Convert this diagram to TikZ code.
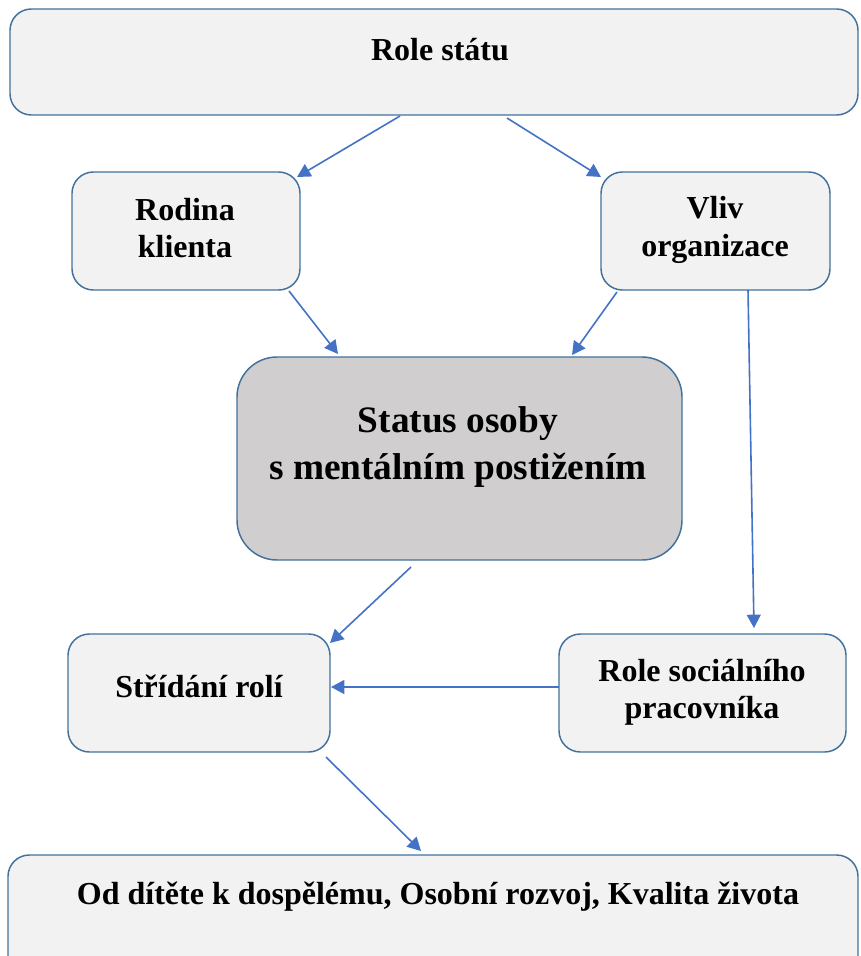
\documentclass[tikz,border=0pt]{standalone}
\usepackage{fontspec}
\setmainfont{Liberation Serif}
\usetikzlibrary{arrows.meta}
\definecolor{boxline}{HTML}{41719C}
\definecolor{boxfill}{HTML}{F2F2F2}
\definecolor{statfill}{HTML}{D0CECE}
\definecolor{arr}{HTML}{4472C4}
\tikzset{
  box/.style={draw=boxline, fill=boxfill, line width=1.1pt, rounded corners=16pt},
  txt/.style={font=\bfseries\fontsize{24}{28}\selectfont, align=center, inner sep=0pt},
  bigtxt/.style={font=\bfseries\fontsize{28}{35}\selectfont, align=center, inner sep=0pt},
  conn/.style={draw=arr, line width=1.2pt, -{Triangle[length=10pt,width=10.5pt]}}
}
\begin{document}
\begin{tikzpicture}[x=0.75pt,y=-0.75pt]
\path[use as bounding box] (0,0) rectangle (860,956);
\clip (0,0) rectangle (860,956);
% boxes
\draw[box] (10,9) rectangle (858,115);
\node[txt] (ttop) at (440,50) {Role státu};
\draw[box] (72,172) rectangle (300,290);
\node[txt] (rod) at (185,228) {Rodina\\klienta};
\draw[box] (601,172) rectangle (830,290);
\node[txt] (vliv) at (715,230) {Vliv\\organizace};
\draw[box, fill=statfill, rounded corners=30pt] (237,357) rectangle (682,560);
\node[bigtxt] (stat) at (458,447) {Status osoby\\s mentálním postižením};
\draw[box] (68,634) rectangle (330,752);
\node[txt] (strid) at (199,686) {Střídání rolí};
\draw[box] (559,634) rectangle (846,752);
\node[txt] (soc) at (702,692) {Role sociálního\\pracovníka};
\draw[box] (8,855) rectangle (858,990);
\node[txt] (bot) at (438,897) {Od dítěte k dospělému, Osobní rozvoj, Kvalita života};
% connector end points
\coordinate (a1s) at (400,116); \coordinate (a1e) at (297,177);
\coordinate (a2s) at (507,118); \coordinate (a2e) at (601,177);
\coordinate (a3s) at (289,291); \coordinate (a3e) at (338,354);
\coordinate (a4s) at (617,292); \coordinate (a4e) at (572,355);
\coordinate (a5s) at (748,290); \coordinate (a5e) at (754,628);
\coordinate (a6s) at (411,567); \coordinate (a6e) at (330,643);
\coordinate (a7s) at (559,687); \coordinate (a7e) at (331,687);
\coordinate (a8s) at (326,757); \coordinate (a8e) at (421,851);
\draw[conn] (a1s) -- (a1e);
\draw[conn] (a2s) -- (a2e);
\draw[conn] (a3s) -- (a3e);
\draw[conn] (a4s) -- (a4e);
\draw[conn] (a5s) -- (a5e);
\draw[conn] (a6s) -- (a6e);
\draw[conn] (a7s) -- (a7e);
\draw[conn] (a8s) -- (a8e);
\end{tikzpicture}
\end{document}
